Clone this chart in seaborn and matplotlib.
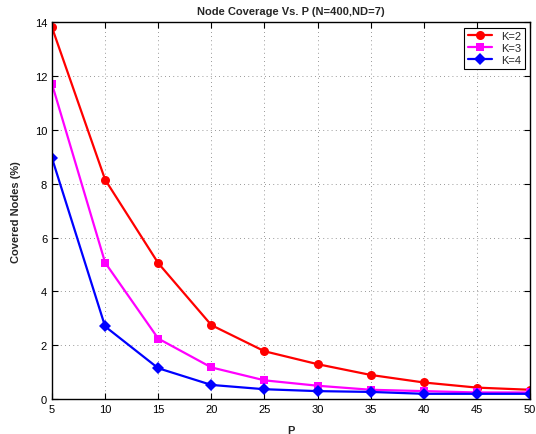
import matplotlib
matplotlib.use("Agg")
import matplotlib.pyplot as plt
import seaborn as sns
import pandas as pd

P = [5, 10, 15, 20, 25, 30, 35, 40, 45, 50]
k2 = [13.8, 8.15, 5.05, 2.75, 1.78, 1.3, 0.9, 0.62, 0.43, 0.35]
k3 = [11.7, 5.07, 2.25, 1.18, 0.7, 0.5, 0.35, 0.3, 0.25, 0.25]
k4 = [8.95, 2.7, 1.15, 0.53, 0.37, 0.3, 0.27, 0.2, 0.2, 0.2]
labels = ["K=2", "K=3", "K=4"]
xticks = [5, 10, 15, 20, 25, 30, 35, 40, 45, 50]
yticks = [0, 2, 4, 6, 8, 10, 12, 14]

sns.set_style("ticks")
plt.rcParams['font.family'] = ['Liberation Sans', 'DejaVu Sans']

df = pd.DataFrame({
    "P": P * 3,
    "val": k2 + k3 + k4,
    "K": [labels[0]] * len(P) + [labels[1]] * len(P) + [labels[2]] * len(P),
})

fig = plt.figure(figsize=(5.36, 4.35), dpi=100)
ax = fig.add_axes([0.097, 0.080, 0.892, 0.867])
palette = {"K=2": "#ff0000", "K=3": "#ff00ff", "K=4": "#0000ff"}
markers = {"K=2": "o", "K=3": "s", "K=4": "D"}
sns.lineplot(data=df, x="P", y="val", hue="K", style="K", palette=palette,
             markers=markers, dashes=False, linewidth=1.6, markersize=6.5,
             markeredgewidth=0, ax=ax)
for ln in ax.lines:
    if ln.get_marker() == "s":
        ln.set_markersize(5.2)
ax.set_xlim(5, 50)
ax.set_ylim(0, 14)
ax.set_xticks(xticks)
ax.set_yticks(yticks)
ax.grid(True, linestyle=(0, (1, 4)), color="#777777", linewidth=0.6)
ax.tick_params(direction="in", length=4, labelsize=8, top=True, right=True, colors="black")
for s in ax.spines.values():
    s.set_visible(True)
    s.set_linewidth(1)
    s.set_color("black")
ax.set_title("Node Coverage Vs. P (N=400,ND=7)", fontsize=8, fontweight="bold")
ax.set_xlabel("P", fontsize=8, fontweight="bold", labelpad=8)
ax.set_ylabel("Covered Nodes (%)", fontsize=8, fontweight="bold", labelpad=10)
leg = ax.legend(loc="upper right", fontsize=8, frameon=True, fancybox=False,
                edgecolor="black", framealpha=1, handlelength=2.2, borderpad=0.3,
                labelspacing=0.2)
leg.get_frame().set_linewidth(0.8)
for h in leg.legend_handles:
    if hasattr(h, "get_marker") and h.get_marker() == "s":
        h.set_markersize(5.2)
fig.savefig("out.png", dpi=100)
